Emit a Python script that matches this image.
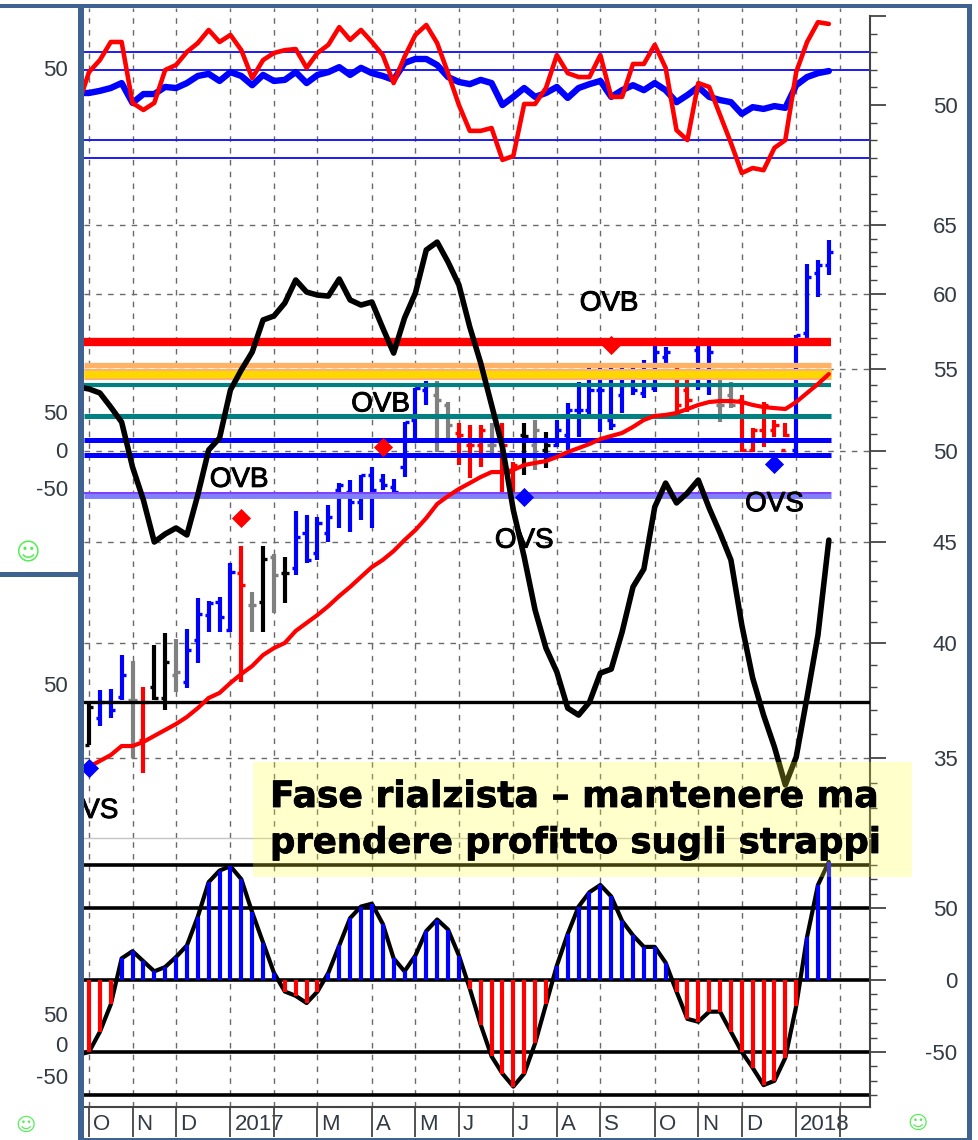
import numpy as np, seaborn as sns, matplotlib
matplotlib.use('Agg')
import matplotlib.pyplot as plt
import matplotlib.patheffects as pe
from matplotlib.patches import Rectangle
from matplotlib.ticker import FixedLocator, NullFormatter
from matplotlib.transforms import ScaledTranslation

W, H = 979, 1140

# ---- data -----------------------------------------------------------------
month_weeks = [0, 4, 8, 13, 17, 21, 26, 30, 34, 39, 43, 47, 52, 56, 60, 65, 69]
month_labels = ['O', 'N', 'D', '2017', '', 'M', 'A', 'M', 'J', 'J', 'A', 'S', 'O', 'N', 'D', '2018', '']

rsi_fast = [50.0,59.3,62.7,67.8,67.8,50.6,48.6,50.6,59.9,61.3,65.0,67.5,71.2,67.8,69.8,65.5,57.6,
            62.7,64.7,65.5,65.8,60.5,64.7,67.0,72.0,68.4,71.2,67.8,64.1,56.2,63.6,69.8,72.6,67.5,
            59.0,50.0,42.7,42.7,43.5,34.5,35.6,50.3,50.3,54.8,64.1,59.0,57.9,57.9,64.1,52.3,52.3,
            61.6,61.6,67.0,60.5,42.9,40.1,56.2,55.1,47.2,39.3,30.8,32.2,31.6,37.9,40.1,59.3,67.8,
            73.4,72.9]
rsi_slow = [53.4,53.4,54.0,54.8,56.2,50.6,53.1,53.1,55.1,54.8,56.2,58.2,58.8,56.8,59.3,58.2,55.6,
            58.5,56.8,57.1,59.3,56.2,58.5,59.3,60.7,58.5,60.5,59.0,58.2,57.1,61.9,63.0,63.0,61.3,
            57.9,56.5,55.9,57.1,56.2,50.0,52.3,54.8,52.3,53.4,55.1,52.0,54.8,55.9,56.8,52.3,54.2,
            55.6,54.2,56.2,54.2,50.8,52.8,55.1,52.3,51.4,50.8,47.5,49.4,48.9,49.7,49.2,55.6,57.9,
            59.0,59.6]
rsi_levels = [65, 60, 40, 35]

osc_curve = [53.86,53.74,53.49,52.62,51.71,49.08,47.23,44.98,45.40,45.72,45.35,47.51,50.06,50.76,53.68,54.94,56.10,
             58.23,58.50,59.39,61.00,60.15,59.94,59.87,61.07,59.60,59.25,59.46,57.69,56.03,58.36,60.08,63.17,63.75,
             62.29,60.65,57.75,55.39,52.75,50.23,46.68,44.20,41.56,39.76,38.67,37.08,36.78,37.34,38.62,38.80,40.51,
             42.69,43.59,46.85,48.17,47.07,47.62,48.34,46.79,45.45,44.05,40.84,38.40,36.78,35.44,33.91,35.03,37.56,
             40.37,45.08]
moving_avg = [34.42,34.63,34.87,35.11,35.48,35.48,35.65,35.90,36.15,36.40,36.70,37.08,37.52,37.74,38.18,38.58,38.94,
              39.44,39.76,40.00,40.56,40.94,41.32,41.75,42.24,42.69,43.19,43.69,44.05,44.51,45.08,45.61,46.25,47.01,
              47.45,47.84,48.17,48.51,48.79,48.79,48.91,49.19,49.31,49.42,49.65,49.94,50.17,50.41,50.70,50.88,51.06,
              51.42,51.84,52.08,52.14,52.26,52.50,52.75,52.93,52.99,52.99,52.93,52.75,52.62,52.56,52.50,52.93,53.49,
              54.05,54.68]
price_high = [37.34,37.87,37.91,39.44,39.17,38.00,39.90,40.46,40.18,40.65,42.14,42.00,42.19,43.89,44.77,42.44,44.77,
              44.36,44.20,46.63,46.41,46.31,46.96,48.17,48.34,48.62,49.08,48.68,48.40,51.71,53.80,54.24,54.24,52.93,
              51.65,51.53,51.53,51.65,51.65,49.36,51.65,51.84,51.12,51.84,52.87,54.18,55.07,55.07,55.07,55.13,55.39,
              55.58,56.56,56.43,55.13,54.30,56.69,56.56,54.30,54.18,53.36,51.36,52.93,51.84,51.65,57.22,62.15,62.44,
              63.90]
price_low = [35.52,36.32,36.66,37.43,34.99,34.38,37.43,37.00,37.78,37.96,39.08,40.51,40.51,40.51,38.22,40.51,40.51,
             41.42,41.90,43.29,43.89,44.05,44.98,45.72,45.51,46.15,45.72,47.78,47.67,48.51,50.53,52.75,49.94,50.47,
             49.19,48.45,49.08,49.65,47.62,47.62,48.62,48.91,49.02,50.23,50.06,50.82,52.14,51.12,51.24,52.26,53.36,
             53.18,53.55,55.13,52.26,52.32,53.68,53.36,51.71,52.56,49.94,49.94,50.23,50.82,50.82,49.88,57.02,59.81,
             61.35]
price_open = [35.52,36.66,37.34,37.56,37.43,35.73,38.00,37.52,38.53,38.22,40.14,41.32,41.95,40.60,43.39,41.80,41.95,
              44.20,43.39,43.64,45.45,44.41,45.45,47.78,47.67,47.12,48.62,48.34,47.95,49.08,51.84,53.68,53.36,52.75,
              51.06,50.35,50.35,50.35,50.64,48.79,50.94,50.35,50.06,50.35,50.94,52.44,52.44,53.68,51.84,53.36,53.99,
              53.49,53.80,55.77,54.81,53.68,56.23,53.99,52.75,53.36,53.05,50.06,51.24,51.24,50.06,50.06,57.35,61.50,
              62.07]
price_close = [37.13,37.34,37.00,38.53,37.43,37.34,37.52,39.12,38.67,39.67,41.37,41.90,41.22,43.44,42.79,41.80,44.10,
               43.29,43.39,45.24,44.05,45.98,46.31,48.06,47.12,48.62,47.78,48.06,47.67,51.71,53.80,53.99,53.05,51.53,
               50.94,50.35,51.24,50.35,50.35,49.19,50.88,51.24,50.35,51.24,52.44,52.44,53.68,53.68,51.53,53.99,53.68,
               53.99,56.10,56.10,52.75,53.05,53.99,56.10,52.75,52.75,50.06,51.24,52.75,51.53,50.94,57.22,61.21,62.07,
               63.02]
bar_kinds = list('kbbbgrkkgbbbbbrgkgkbbbbbbbbbbbbbggrrrgrrkgkbbbbbbbbbbbrrbbggrrrrrbbbb')

level_values = [56.76, 55.26, 54.68, 53.99, 52.05, 50.64, 49.74, 47.48]
level_colors = ['#FF0000', '#FFB266', '#FFB266', '#008080', '#008080', '#0000FF', '#0000FF', '#8080FF']
ref_level = 37.34
ovb_weeks, ovb_values = [14, 27, 48], [46.25, 50.23, 56.56]
ovs_weeks, ovs_values = [0, 40, 63], [34.58, 47.40, 49.25]
note_lines = ['Fase rialzista – mantenere ma', 'prendere profitto sugli strappi']

momentum = [-52,-50,-36,-17,15,20,13,6,9,16,24,44,68,76,79,70,47,26,5,-8,-11,-16,-8,5,24,43,51,53,39,15,6,17,34,42,35,17,
            -6,-31,-53,-65,-74,-65,-44,-17,10,32,51,61,66,58,41,31,23,23,12,-8,-27,-29,-22,-22,-36,-50,-61,-73,-70,-54,-18,
            30,66,82]
momentum_levels = [80, 50, 0, -50, -80]

weeks_line = np.arange(-1, 69)
weeks_bar = np.arange(0, 69)

# ---- figure ---------------------------------------------------------------
sns.set_theme(style='white')
plt.rcParams['font.family'] = ['Liberation Sans', 'DejaVu Sans']

fig = plt.figure(figsize=(W / 100, H / 100), dpi=100, facecolor='white')
L, R = 84, 870
def axes_px(top, bottom):
    return fig.add_axes([L / W, 1 - bottom / H, (R - L) / W, (bottom - top) / H])
ax_top = axes_px(8, 224)
ax_main = axes_px(224, 838)
ax_bot = axes_px(838, 1107)

x0, x1 = (L - 89) / 10.88, (R - 89) / 10.88
GRID = dict(color='#6a6a6a', lw=1.0, ls=(0, (4, 4.5)))
TXT = '#333a44'
SP = '#444444'
for ax in (ax_top, ax_main, ax_bot):
    ax.set_facecolor('none')
    ax.set_xlim(x0, x1)
    ax.set_xticks(month_weeks)
    ax.grid(axis='x', **GRID)
    ax.set_axisbelow(True)
    for s in ('left', 'top', 'bottom'):
        ax.spines[s].set_visible(False)
    ax.spines['right'].set_color(SP)
    ax.spines['right'].set_linewidth(1.5)
    ax.yaxis.tick_right()
    ax.tick_params(axis='y', which='major', length=11.5, width=1.3, color=SP, pad=51.5,
                   labelsize=16, labelcolor=TXT, right=True, left=False)
    ax.tick_params(axis='y', which='minor', length=5, width=1.0, color=SP, right=True, left=False)
    ax.set_xlabel(''); ax.set_ylabel('')

def set_y(ax, majors, labels, minors):
    ax.yaxis.set_major_locator(FixedLocator(majors))
    ax.set_yticklabels(labels)
    ax.yaxis.set_minor_locator(FixedLocator(minors))
    ax.yaxis.set_minor_formatter(NullFormatter())
    for t in ax.yaxis.get_major_ticks():
        t.label2.set_ha('right')

# top panel
ax_top.set_ylim(16.4, 77.4)
ax_top.spines['right'].set_bounds(16.4, 75)
for lv in rsi_levels:
    ax_top.axhline(lv, color='#1a1aff', lw=1.4, zorder=1)
sns.lineplot(x=weeks_line, y=rsi_slow, ax=ax_top, color='#0000FF', lw=4.6, estimator=None, zorder=3)
sns.lineplot(x=weeks_line, y=rsi_fast, ax=ax_top, color='#FF0000', lw=3.3, estimator=None, zorder=4)
ax_top.set_xticklabels([]); ax_top.tick_params(axis='x', length=0)
set_y(ax_top, [75, 50], ['', '50'], [70, 65, 60, 55, 45, 40, 35, 30, 25, 20])

# main panel
ax_main.set_yscale('log')
ax_main.set_ylim(50 * np.exp((451 - 838) / 860), 50 * np.exp((451 - 224) / 860))
ax_main.grid(axis='y', which='major', **GRID)
ax_main.grid(axis='y', which='minor', visible=False)
ax_main.set_xticklabels([]); ax_main.tick_params(axis='x', length=0)
set_y(ax_main, [35, 40, 45, 50, 55, 60, 65], ['35', '40', '45', '50', '55', '60', '65'],
      [v for v in range(32, 65) if v % 5])
ax_main.tick_params(axis='y', which='minor', labelright=False)

palette = {'b': '#0000FF', 'k': '#000000', 'g': '#808080', 'r': '#FF0000'}
bar_cols = [palette[k] for k in bar_kinds]
ax_main.vlines(weeks_bar, price_low, price_high, colors=bar_cols, lw=3.0, zorder=2)
ax_main.hlines(price_open, weeks_bar - 0.38, weeks_bar, colors=bar_cols, lw=2.4, zorder=2)
ax_main.hlines(price_close, weeks_bar, weeks_bar + 0.38, colors=bar_cols, lw=2.4, zorder=2)

widths = [6.0, 3.8, 8.0, 3.0, 3.6, 3.6, 3.6, 5.0]
for v, c, w in zip(level_values, level_colors, widths):
    ax_main.hlines(v, x0, 68.2, colors=c, lw=w, zorder=3)
ax_main.hlines(level_values[2], x0, 68.2, colors='#FFD700', lw=5.0, zorder=3)
ax_main.hlines(47.62, x0, 68.2, colors='#8040FF', lw=1.4, zorder=3)
ax_main.axhline(ref_level, color='black', lw=2.4, zorder=3)

sns.lineplot(x=weeks_line, y=moving_avg, ax=ax_main, color='#FF0000', lw=3.0, estimator=None, zorder=4)
sns.lineplot(x=weeks_line, y=osc_curve, ax=ax_main, color='#000000', lw=4.0, estimator=None, zorder=5)
sns.scatterplot(x=ovb_weeks, y=ovb_values, ax=ax_main, marker='D', s=95, color='#FF0000', linewidth=0, zorder=6)
sns.scatterplot(x=ovs_weeks, y=ovs_values, ax=ax_main, marker='D', s=95, color='#0000FF', linewidth=0, zorder=6)
label_font = dict(fontsize=20, color='black', ha='center', va='center', zorder=7, clip_on=True,
                  path_effects=[pe.withStroke(linewidth=0.7, foreground='black')])
def lab(week, value, s):
    ax_main.text(week, value, s, **label_font)
lab(13.8, 48.35, 'OVB'); lab(26.8, 52.78, 'OVB'); lab(47.8, 59.35, 'OVB')
lab(40, 45.05, 'OVS'); lab(63, 47.0, 'OVS'); lab(0, 32.9, 'OVS')

# bottom panel
ax_bot.set_ylim((980 - 1107) / 1.44, (980 - 838) / 1.44)
ax_bot.spines['bottom'].set_visible(True)
ax_bot.spines['bottom'].set_color(SP)
ax_bot.spines['bottom'].set_linewidth(1.5)
ax_bot.spines['top'].set_visible(True)
ax_bot.spines['top'].set_color('#c4c4c4')
ax_bot.spines['top'].set_linewidth(1.0)
for lv in momentum_levels:
    ax_bot.axhline(lv, color='black', lw=2.6, zorder=1)
sns.lineplot(x=weeks_line, y=momentum, ax=ax_bot, color='black', lw=3.0, estimator=None, zorder=2)
mom = np.array(momentum[1:], float)
ax_bot.vlines(weeks_bar, 0, mom, colors=['#0000FF' if m > 0 else '#FF0000' for m in mom], lw=3.0, zorder=3)
set_y(ax_bot, [50, 0, -50], ['50', '0', '-50'], [v for v in range(-80, 81, 10) if v % 50])
ax_bot.set_xticklabels(month_labels, fontsize=16, color=TXT, ha='left')
ax_bot.tick_params(axis='x', length=21.6, width=1.3, color=SP, pad=-16.5, bottom=True)
shift = ScaledTranslation(4 / 100, 0, fig.dpi_scale_trans)
for t in ax_bot.get_xticklabels():
    t.set_transform(t.get_transform() + shift)

# overlay: frame, note box, left scale numbers
ov = fig.add_axes([0, 0, 1, 1], zorder=10)
ov.set_xlim(0, W); ov.set_ylim(H, 0); ov.axis('off'); ov.patch.set_alpha(0)
FR = '#3F6390'
for (x, y, w, h) in [(0, 4, 972, 3.5), (78, 5, 6, 1134), (0, 572, 78, 5), (967.5, 4, 4.5, 1135), (78, 1137.5, 894, 2)]:
    ov.add_patch(Rectangle((x, y), w, h, fc=FR, ec='none', zorder=1))
ov.add_patch(Rectangle((253, 762), 659, 115, fc='#FFFF34', ec='none', alpha=0.25, zorder=2))
for s, y, fs in zip(note_lines, [797, 843], [26.0, 25.5]):
    ov.text(270, y, s, fontsize=fs, fontweight='bold', family='DejaVu Sans', color='black',
            va='center', ha='left', zorder=3,
            path_effects=[pe.withStroke(linewidth=0.6, foreground='black')])
for s, x, y in [('50', 68, 71), ('50', 68, 415), ('0', 68, 452), ('-50', 68, 490), ('50', 68, 686),
                ('50', 68, 1017), ('0', 68, 1047), ('-50', 68, 1079)]:
    ov.text(x, y, s, fontsize=16, color=TXT, ha='right', va='center', zorder=3)
for x, y, fs in [(27, 553, 17), (26, 1125, 14), (918, 1123, 14)]:
    ov.text(x, y, '\u263A', fontsize=fs, color='#55EE55', ha='center', va='center',
            family='DejaVu Sans', zorder=3)

fig.savefig('out.png', dpi=100)
